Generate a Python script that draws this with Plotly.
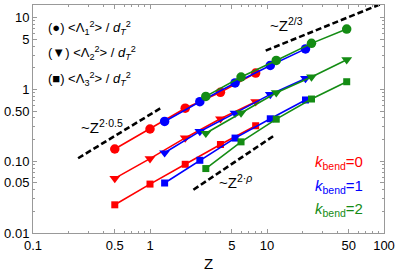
import plotly.graph_objects as go

# ---- data ----
Z_red = [0.5, 1, 2, 4, 8]
Z_blue = [4/3, 8/3, 16/3, 32/3, 64/3]
Z_green = [3, 6, 12, 24, 48]

L1_red = [0.148, 0.281, 0.547, 0.91, 1.69]
L1_blue = [0.358, 0.675, 1.23, 2.16, 3.67]
L1_green = [0.80, 1.49, 2.53, 4.38, 6.92]

L2_red = [0.0576, 0.1086, 0.211, 0.39, 0.675]
L2_blue = [0.131, 0.26, 0.467, 0.853, 1.42]
L2_green = [0.245, 0.47, 0.90, 1.49, 2.59]

L3_red = [0.0247, 0.048, 0.0906, 0.171, 0.312]
L3_blue = [0.0497, 0.103, 0.21, 0.39, 0.713]
L3_green = [0.079, 0.186, 0.385, 0.735, 1.28]

guide1_Z = [0.243, 1.23]
guide1_y = [0.11, 0.547]
guide2_Z = [9.75, 100]
guide2_y = [3.47, 16.1]
guide3_Z = [2.35, 11.8]
guide3_y = [0.040, 0.234]

x_tickvals = [0.1, 0.5, 1, 5, 10, 50, 100]
x_ticktext = ["0.1", "0.5", "1", "5", "10", "50", "100"]
y_tickvals = [0.01, 0.05, 0.1, 0.5, 1, 5, 10]
y_ticktext = ["0.01", "0.05", "0.10", "0.50", "1", "5", "10"]

RED = "rgb(255,0,0)"
BLUE = "rgb(0,0,255)"
GREEN = "rgb(20,140,20)"
FAM = "Liberation Sans, Arial"

fig = go.Figure()

series = [
    (Z_red, [L1_red, L2_red, L3_red], RED),
    (Z_blue, [L1_blue, L2_blue, L3_blue], BLUE),
    (Z_green, [L1_green, L2_green, L3_green], GREEN),
]
symbols = [("circle", 9.5), ("triangle-down", 9.5), ("square", 7)]

for Z, Ls, col in series:
    for L, (sym, sz) in zip(Ls, symbols):
        fig.add_trace(go.Scatter(
            x=Z, y=L, mode="lines+markers",
            line=dict(color=col, width=1.6),
            marker=dict(symbol=sym, size=sz, color=col),
            showlegend=False, cliponaxis=True, hoverinfo="skip"))

for gx, gy in [(guide1_Z, guide1_y), (guide2_Z, guide2_y), (guide3_Z, guide3_y)]:
    fig.add_trace(go.Scatter(
        x=gx, y=gy, mode="lines",
        line=dict(color="black", width=2.6, dash="6px,3px"),
        showlegend=False, hoverinfo="skip"))

axis_common = dict(
    type="log", showline=True, linecolor="#999999", linewidth=1,
    mirror="allticks", ticks="inside", ticklen=4, tickcolor="#999999",
    showgrid=False, zeroline=False,
    tickfont=dict(family=FAM, size=13, color="black"),
    minor=dict(ticks="inside", ticklen=2, tickcolor="#999999", dtick="D1", showgrid=False),
)

fig.update_xaxes(range=[-1, 2], tickvals=x_tickvals, ticktext=x_ticktext,
                 title=dict(text="Z", font=dict(family=FAM, size=15, color="black"),
                            standoff=6),
                 **axis_common)
fig.update_yaxes(range=[-2, 1.176], tickvals=y_tickvals, ticktext=y_ticktext,
                 **axis_common)

PW, PH = 355, 229  # plot area size in px
def px(xp):
    return (xp - 31) / PW
def py(yp):
    return (233 - yp) / PH

ann = []
legend_lines = [("●", "1", 27), ("▼", "2", 52), ("■", "3", 78)]
for sym, idx, ypx in legend_lines:
    ann.append(dict(
        xref="paper", yref="paper", x=px(44), y=py(ypx),
        xanchor="left", yanchor="middle", showarrow=False,
        text=f"({sym}) <Λ<sub>{idx}</sub><sup>2</sup>> / <i>d</i><sub><i>T</i></sub><sup>2</sup>",
        font=dict(family=FAM, size=13, color="black")))

gfont = dict(family=FAM, size=15, color="black")
ann.append(dict(xref="paper", yref="paper", x=px(101), y=py(126),
                xanchor="center", yanchor="middle", showarrow=False,
                text="~Z<sup>2·0.5</sup>", font=gfont))
ann.append(dict(xref="paper", yref="paper", x=px(287), y=py(24),
                xanchor="center", yanchor="middle", showarrow=False,
                text="~Z<sup>2/3</sup>", font=gfont))
ann.append(dict(xref="paper", yref="paper", x=px(236), y=py(181),
                xanchor="center", yanchor="middle", showarrow=False,
                text="~Z<sup>2·<i>ρ</i></sup>", font=gfont))

for k, col, ypx in [("0", RED, 162), ("1", BLUE, 186), ("2", GREEN, 209)]:
    ann.append(dict(xref="paper", yref="paper", x=px(340), y=py(ypx),
                    xanchor="center", yanchor="middle", showarrow=False,
                    text=f"<i>k</i><sub>bend</sub>={k}",
                    font=dict(family=FAM, size=15, color=col)))

fig.update_layout(
    width=399, height=280,
    margin=dict(l=31, r=13, t=4, b=47),
    paper_bgcolor="white", plot_bgcolor="white",
    annotations=ann, hovermode=False,
)

fig.write_html("out.html", config={"displayModeBar": False, "staticPlot": True},
               post_script="document.body.style.margin='0';document.body.style.overflow='hidden';")
